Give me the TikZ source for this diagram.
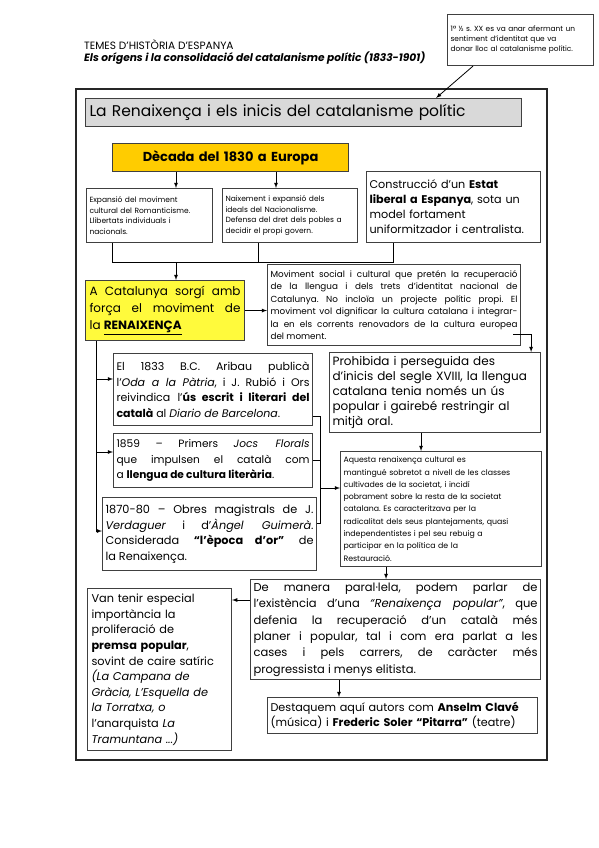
\documentclass[tikz,border=0pt]{standalone}
\usepackage{fontspec}
\setmainfont{Poppins}
\usepackage{xcolor}
\definecolor{groc}{RGB}{255,204,0}
\definecolor{llimona}{RGB}{255,250,60}
\definecolor{vora}{RGB}{64,64,64}
\usepackage{tikz}
\usetikzlibrary{calc,arrows}
\frenchspacing

\tikzset{
  caixa/.style={draw=vora,line width=1.1pt,fill=white,anchor=north west,inner sep=3pt},
  fletxa/.style={-latex,line width=0.8pt},
  linia/.style={line width=0.8pt}
}

\begin{document}
\begin{tikzpicture}[x=1pt,y=-1pt]
  \useasboundingbox[fill=white] (0,0) rectangle (599,848);

  %% capcalera i nota
  \node[anchor=north west,inner sep=0pt,align=left,font=\fontsize{10.6}{12.5}\selectfont]
  (capcal) at (84,39) {TEMES D’HISTÒRIA D’ESPANYA\\
  \textbf{\textit{Els orígens i la consolidació del catalanisme polític (1833-1901)}}};
  \node[caixa,text width=140pt,minimum height=51pt,align=left,
  font=\fontsize{7.4}{10}\selectfont] (nota) at (447,14) {1ª ½ s. XX es va anar afermant un\\
  sentiment d’identitat que va\\ donar lloc al catalanisme polític.};

  \draw[line width=1.4pt,black!85] (76,89) rectangle (547,760);

  \node[caixa,fill=black!15,inner sep=4pt,text width=428pt,minimum height=28pt,align=left,
  font=\fontsize{15.5}{18}\selectfont] (titol) at (85,98)
  {La Renaixença i els inicis del catalanisme polític};

  %% Europa
  \node[caixa,fill=groc,text width=230pt,minimum height=28pt,align=center,
  font=\fontsize{13}{15}\selectfont\bfseries] (decada) at (112,143) {Dècada del 1830 a Europa};
  \node[caixa,text width=120pt,minimum height=54pt,align=left,
  font=\fontsize{7.5}{10.8}\selectfont] (expansio) at (86,188) {Expansió del moviment\\
  cultural del Romanticisme.\\ Llibertats individuals i\\ nacionals.};
  \node[caixa,text width=129pt,minimum height=54pt,align=left,
  font=\fontsize{7.5}{10.8}\selectfont] (naixement) at (222,188) {Naixement i expansió dels\\
  ideals del Nacionalisme.\\ Defensa del dret dels pobles a\\ decidir el propi govern.};
  \node[caixa,text width=168pt,minimum height=71pt,align=left,
  font=\fontsize{11.2}{15}\selectfont] (construccio) at (366,171) {Construcció d’un \textbf{Estat}\\
  \textbf{liberal a Espanya}, sota un\\ model fortament\\ uniformitzador i centralista.};

  %% Catalunya
  \node[caixa,fill=llimona,inner sep=4pt,text width=151pt,minimum height=60pt,align=justify,
  font=\fontsize{12}{17}\selectfont] (catalunya) at (85,280) {A Catalunya sorgí amb\linebreak
  força el moviment de\linebreak la \textbf{\underline{RENAIXENÇA}}};
  \node[caixa,text width=247pt,minimum height=81pt,align=justify,
  font=\fontsize{8.8}{12.5}\selectfont] (moviment) at (267,264)
  {Moviment social i cultural que pretén la recuperació\linebreak
  de la llengua i dels trets d’identitat nacional de\linebreak
  Catalunya. No incloïa un projecte polític propi. El\linebreak
  moviment vol dignificar la cultura catalana i integrar-\linebreak
  la en els corrents renovadors de la cultura europea\linebreak del moment.};
  \node[caixa,text width=205pt,minimum height=80pt,align=left,
  font=\fontsize{12}{15.2}\selectfont] (prohibida) at (329,352) {Prohibida i perseguida des\\
  d’inicis del segle XVIII, la llengua\\ catalana tenia només un ús\\
  popular i gairebé restringir al\\ mitjà oral.};

  %% fites
  \node[caixa,text width=193pt,minimum height=72pt,align=justify,
  font=\fontsize{11}{15.5}\selectfont] (aribau) at (113,353) {El 1833 B.C. Aribau publicà\linebreak
  l’\textit{Oda a la Pàtria}, i J. Rubió i Ors\linebreak
  reivindica l’\textbf{ús escrit i literari del}\linebreak
  \textbf{català} al \textit{Diario de Barcelona}.};
  \node[caixa,text width=193pt,minimum height=54pt,align=justify,
  font=\fontsize{10.6}{15.5}\selectfont] (jocs) at (113,433) {1859 – Primers \textit{Jocs Florals}\linebreak
  que impulsen el català com\linebreak a \textbf{llengua de cultura literària}.};
  \node[caixa,text width=208pt,minimum height=73pt,align=justify,
  font=\fontsize{11.3}{15.5}\selectfont] (obres) at (102,497) {1870-80 – Obres magistrals de J.\linebreak
  \textit{Verdaguer} i d’\textit{Àngel Guimerà}.\linebreak
  Considerada \textbf{“l’època d’or”} de\linebreak la Renaixença.};
  \node[caixa,text width=195pt,minimum height=115pt,align=left,
  font=\fontsize{7.8}{12.3}\selectfont] (aquesta) at (340,451) {Aquesta renaixença cultural es\\
  mantingué sobretot a nivell de les classes\\ cultivades de la societat, i incidí\\
  pobrament sobre la resta de la societat\\ catalana. Es caracteritzava per la\\
  radicalitat dels seus plantejaments, quasi\\ independentistes i pel seu rebuig a\\
  participar en la política de la\\ Restauració.};

  %% Renaixenca popular
  \node[caixa,text width=284pt,minimum height=100pt,align=justify,
  font=\fontsize{11.5}{16.3}\selectfont] (manera) at (250,579) {De manera paral·lela, podem parlar de\linebreak
  l’existència d’una \textit{“Renaixença popular”}, que\linebreak
  defenia la recuperació d’un català més\linebreak
  planer i popular, tal i com era parlat a les\linebreak
  cases i pels carrers, de caràcter més\linebreak progressista i menys elitista.};
  \node[caixa,inner sep=4pt,text width=136pt,minimum height=162pt,align=left,
  font=\fontsize{11.3}{15.6}\selectfont] (vantenir) at (87,588) {Van tenir especial\\ importància la\\
  proliferació de\\ \textbf{premsa popular},\\ sovint de caire satíric\\
  \textit{(La Campana de}\\ \textit{Gràcia, L’Esquella de}\\ \textit{la Torratxa, o}\\
  l’anarquista \textit{La}\\ \textit{Tramuntana ...)}};
  \node[caixa,text width=264pt,minimum height=36pt,align=left,
  font=\fontsize{11.2}{15}\selectfont] (destaquem) at (267,697) {Destaquem aquí autors com \textbf{Anselm Clavé}\\
  (música) i \textbf{Frederic Soler “Pitarra”} (teatre)};

  %% connexions
  \draw[fletxa] ([xshift=26pt]nota.south west) -- ([xshift=-86pt]titol.north east);

  \coordinate (d1) at ([xshift=64pt]decada.south west);
  \coordinate (d2) at ([xshift=164pt]decada.south west);
  \draw[fletxa] (d1) -- (d1 |- expansio.north);
  \draw[fletxa] (d2) -- (d2 |- naixement.north);

  \coordinate (u1) at ([xshift=26pt]expansio.south west);
  \coordinate (u2) at ([xshift=36pt]naixement.south west);
  \coordinate (u3) at ([xshift=27pt]construccio.south west);
  \coordinate (unio) at (176,262);
  \draw[linia] (u1) -- (u1 |- unio) -- (u3 |- unio) -- (u3);
  \draw[linia] (u2) -- (u2 |- unio);
  \draw[fletxa] (unio) -- (unio |- catalunya.north);

  \draw[fletxa] (catalunya.east) -- (catalunya.east -| moviment.west);
  \coordinate (m1) at (513,334);
  \coordinate (p1) at ([xshift=-10pt]prohibida.north east);
  \draw[fletxa] (m1) -| (p1);

  % columna esquerra
  \coordinate (e0) at ([xshift=11pt]catalunya.south west);
  \coordinate (e1) at (96,379);
  \coordinate (e2) at (96,452);
  \coordinate (e3) at (96,531);
  \draw[linia] (e0) -- (e3);
  \draw[fletxa] (e1) -- (e1 -| aribau.west);
  \draw[fletxa] (e2) -- (e2 -| jocs.west);
  \draw[fletxa] (e3) -- (e3 -| obres.west);

  % columna dreta
  \coordinate (s1) at (320,416);
  \coordinate (s2) at (320,523);
  \coordinate (s3) at (320,488);
  \draw[linia] (s1 -| aribau.east) -- (s1) -- (s2) -- (s2 -| obres.east);
  \draw[linia] (jocs.east) -- (jocs.east -| s1);
  \draw[fletxa] (s3) -- (s3 -| aquesta.west);

  \coordinate (p2) at ([xshift=-14pt]prohibida.south);
  \draw[fletxa] (p2) -- (p2 |- aquesta.north);
  \coordinate (x1) at ([xshift=-55pt]aquesta.south);
  \draw[fletxa] (x1) -- (x1 |- manera.north);
  \coordinate (v1) at ([yshift=-21pt]manera.north west);
  \draw[fletxa] (v1) -- (v1 -| vantenir.east);
  \coordinate (w1) at ([xshift=89pt]manera.south west);
  \draw[fletxa] (w1) -- (w1 |- destaquem.north);
\end{tikzpicture}
\end{document}
